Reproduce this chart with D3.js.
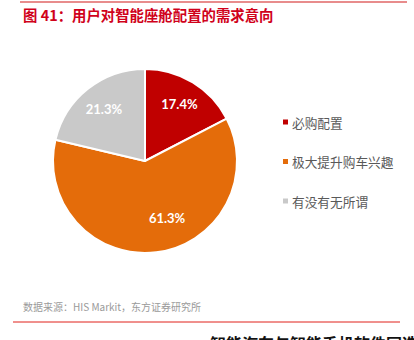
<!DOCTYPE html>
<html>
<head>
<meta charset="utf-8">
<script src="https://cdn.jsdelivr.net/npm/d3@7/dist/d3.min.js"></script>
<style>
  html, body { margin: 0; padding: 0; background: #fff; }
  svg { display: block; }
</style>
</head>
<body>
<svg id="chart" width="414" height="340"></svg>
<script>
// Survey: user demand for smart cockpit configuration
const categories = ["必购配置", "极大提升购车兴趣", "有没有无所谓"];
const shares = [17.4, 61.3, 21.3];
const sliceColors = ["#C00000", "#E46C0A", "#C9C9C9"];

const titleText = "图 41：用户对智能座舱配置的需求意向";
const sourceText = "数据来源：HIS Markit，东方证券研究所";
const nextText = "智能汽车与智能手机软件同迭代";

const svg = d3.select("#chart");
const cjk = "'Noto Sans CJK SC', 'Noto Sans', sans-serif";

// Header rule and title
svg.append("line")
  .attr("x1", 20).attr("x2", 407).attr("y1", 2).attr("y2", 2)
  .attr("stroke", "#E06666").attr("stroke-width", 1.5);
svg.append("text")
  .attr("x", 23).attr("y", 21)
  .attr("font-family", cjk).attr("font-size", 14.4).attr("font-weight", "bold")
  .attr("fill", "#D0021B")
  .text(titleText);

// Pie
const cx = 145, cy = 161, radius = 92;
const pie = d3.pie().sort(null).value(d => d.v);
const arc = d3.arc().innerRadius(0).outerRadius(radius);
const data = categories.map((c, i) => ({ c, v: shares[i], color: sliceColors[i] }));
const arcs = pie(data);

const g = svg.append("g").attr("transform", `translate(${cx},${cy})`);
g.selectAll("path.slice")
  .data(arcs)
  .join("path")
  .attr("class", "slice")
  .attr("d", arc)
  .attr("fill", d => d.data.color)
  .attr("stroke", "#fff")
  .attr("stroke-width", 2)
  .attr("stroke-linejoin", "round");

// Percentage labels inside slices
const labelArc = d3.arc().innerRadius(radius * 0.72).outerRadius(radius * 0.72);
const nudge = { "极大提升购车兴趣": [14, -9] };
g.selectAll("text.pct")
  .data(arcs)
  .join("text")
  .attr("class", "pct")
  .attr("transform", d => {
    const [x, y] = labelArc.centroid(d);
    const n = nudge[d.data.c] || [0, 0];
    return `translate(${x + n[0]},${y + n[1]})`;
  })
  .attr("text-anchor", "middle")
  .attr("dominant-baseline", "central")
  .attr("font-family", "Lato, 'Open Sans', sans-serif")
  .attr("font-size", 13)
  .attr("font-weight", "bold")
  .attr("fill", "#fff")
  .text(d => d.data.v.toFixed(1) + "%");

// Legend
const legend = svg.append("g").attr("transform", "translate(283,122)");
const legendY = d3.scalePoint().domain(categories).range([0, 79]);
const items = legend.selectAll("g.item")
  .data(data)
  .join("g")
  .attr("class", "item")
  .attr("transform", d => `translate(0,${legendY(d.c)})`);
items.append("rect")
  .attr("x", 0).attr("y", -2.5).attr("width", 5).attr("height", 5)
  .attr("fill", d => d.color);
items.append("text")
  .attr("x", 9).attr("y", 0)
  .attr("dominant-baseline", "central")
  .attr("font-family", cjk).attr("font-size", 12.7)
  .attr("fill", "#595959")
  .text(d => d.c);

// Source note and footer rule
svg.append("text")
  .attr("x", 23).attr("y", 311)
  .attr("font-family", cjk).attr("font-size", 10)
  .attr("fill", "#9A9A9A")
  .text(sourceText);
svg.append("line")
  .attr("x1", 13).attr("x2", 400).attr("y1", 322).attr("y2", 322)
  .attr("stroke", "#E0201B").attr("stroke-width", 1);

// Next section heading, partly below the fold
svg.append("text")
  .attr("x", 210).attr("y", 350)
  .attr("font-family", cjk).attr("font-size", 16).attr("font-weight", "bold")
  .attr("fill", "#111")
  .text(nextText);
</script>
</body>
</html>
